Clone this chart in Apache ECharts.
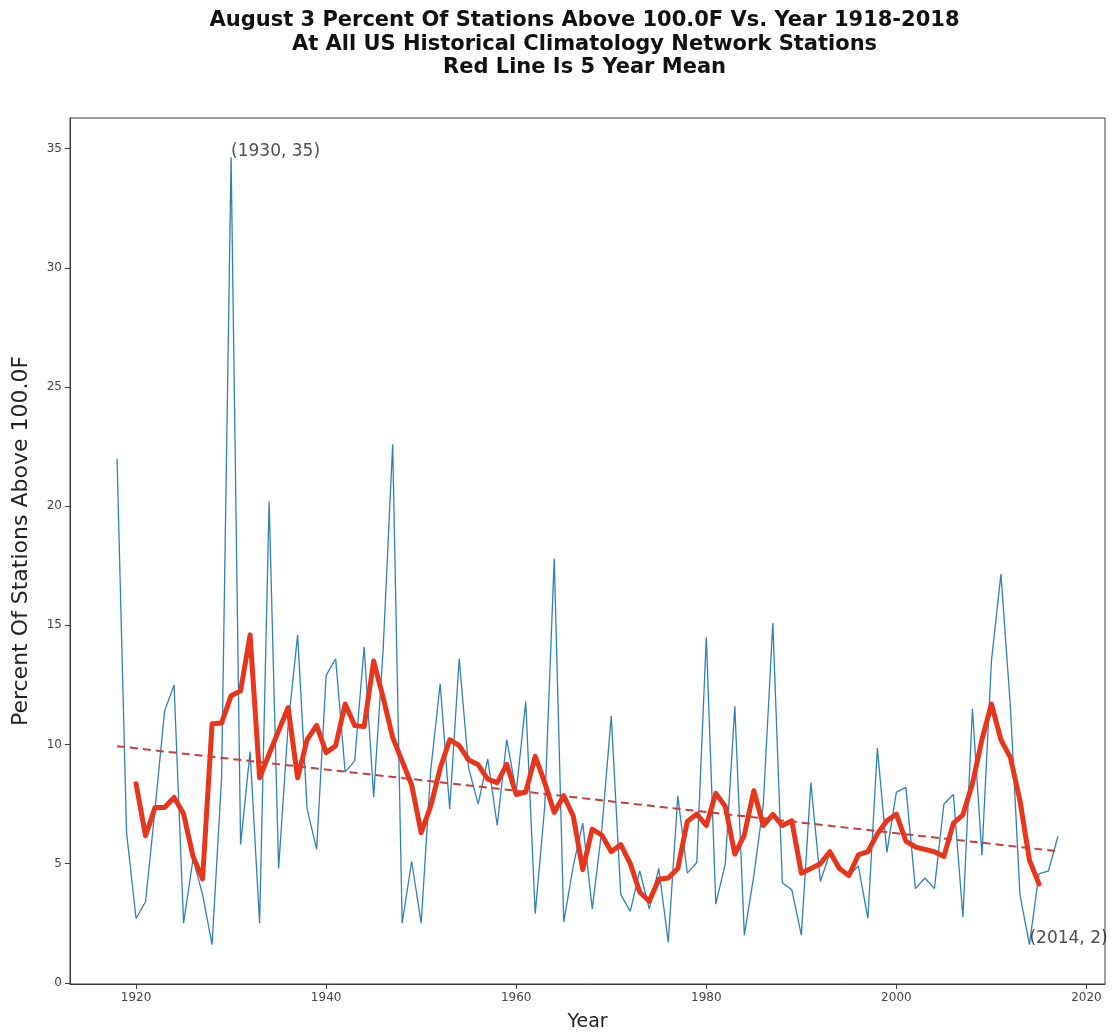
<!DOCTYPE html>
<html>
<head>
<meta charset="utf-8">
<script src="https://cdn.jsdelivr.net/npm/echarts@6/dist/echarts.min.js"></script>
<style>
html,body{margin:0;padding:0;background:#fff;}
#chart{width:1113px;height:1035px;}
</style>
</head>
<body>
<div id="chart"></div>
<script>
// ---- Data ----
const titleLines = [
  "August 3 Percent Of Stations Above 100.0F Vs. Year 1918-2018",
  "At All US Historical Climatology Network Stations",
  "Red Line Is 5 Year Mean"
];
const xAxisTitle = "Year";
const yAxisTitle = "Percent Of Stations Above 100.0F";

const firstYear = 1918;
// Percent of stations above 100F, 1918..2017
const pctAbove100 = [
  22.0, 6.3, 2.7, 3.4, 7.3, 11.4, 12.5, 2.5, 5.2, 3.7,      // 1918-1927
  1.6, 8.6, 34.64, 5.8, 9.7, 2.5, 20.2, 4.8, 10.8, 14.6,    // 1928-1937
  7.3, 5.6, 12.9, 13.6, 8.85, 9.3, 14.1, 7.8, 14.0, 22.6,   // 1938-1947
  2.5, 5.1, 2.5, 8.9, 12.55, 7.3, 13.6, 9.0, 7.5, 9.4,      // 1948-1957
  6.6, 10.2, 8.0, 11.8, 2.9, 7.4, 17.8, 2.55, 4.9, 6.7,     // 1958-1967
  3.1, 6.4, 11.2, 3.7, 3.0, 4.7, 3.1, 4.8, 1.7, 7.85,       // 1968-1977
  4.6, 5.05, 14.5, 3.3, 5.0, 11.6, 2.0, 4.5, 7.5, 15.1,     // 1978-1987
  4.2, 3.9, 2.0, 8.4, 4.25, 5.45, 4.9, 4.5, 4.9, 2.7,       // 1988-1997
  9.85, 5.47, 8.0, 8.2, 3.95, 4.4, 3.95, 7.5, 7.9, 2.75,    // 1998-2007
  11.5, 5.35, 13.5, 17.15, 11.55, 3.7, 1.6, 4.57, 4.7, 6.15 // 2008-2017
];

const meanFirstYear = 1920;
// 5 year mean (red line), 1920..2015
const fiveYearMean = [
  8.35, 6.17, 7.36, 7.36, 7.78, 7.09, 5.3, 4.36, 10.87, 10.9,   // 1920-1929
  12.05, 12.25, 14.6, 8.6, 9.6, 10.57, 11.55, 8.6, 10.2, 10.8,  // 1930-1939
  9.66, 9.95, 11.7, 10.8, 10.75, 13.5, 11.97, 10.3, 9.3, 8.3,   // 1940-1949
  6.3, 7.4, 9.0, 10.2, 9.95, 9.35, 9.15, 8.55, 8.4, 9.17,       // 1950-1959
  7.9, 8.0, 9.5, 8.4, 7.15, 7.85, 7.0, 4.75, 6.45, 6.2,         // 1960-1969
  5.5, 5.8, 5.0, 3.8, 3.42, 4.35, 4.4, 4.8, 6.77, 7.08,         // 1970-1979
  6.6, 7.95, 7.4, 5.4, 6.2, 8.06, 6.6, 7.07, 6.6, 6.8,          // 1980-1989
  4.6, 4.8, 5.0, 5.5, 4.8, 4.5, 5.37, 5.5, 6.25, 6.8,           // 1990-1999
  7.08, 5.95, 5.7, 5.6, 5.5, 5.3, 6.7, 7.05, 8.35, 10.2,        // 2000-2009
  11.7, 10.2, 9.45, 7.65, 5.15, 4.15                            // 2010-2015
];

// dashed trend line end points
const trendYears = [1918, 2017];
const trendValues = [9.93, 5.52];

// annotations
const noteYears = [1930, 2014];
const noteValues = [34.64, 1.6];
const noteTexts = ["(1930, 35)", "(2014, 2)"];

const xTicks = [1920, 1940, 1960, 1980, 2000, 2020];
const yTicks = [0, 5, 10, 15, 20, 25, 30, 35];

// ---- Build series data ----
const bluePts = pctAbove100.map((v, i) => [firstYear + i, v]);
const redPts = fiveYearMean.map((v, i) => [meanFirstYear + i, v]);
const trendPts = trendYears.map((y, i) => [y, trendValues[i]]);
const notePts = noteYears.map((y, i) => ({value: [y, noteValues[i]], name: noteTexts[i]}));

const FONT = "'DejaVu Sans', 'Liberation Sans', sans-serif";
const chart = echarts.init(document.getElementById('chart'), null, {renderer: 'canvas'});

const gridLeft = 70, gridRight = 8, gridTop = 118, gridBottom = 51;
const plotCenterX = gridLeft + (1113 - gridLeft - gridRight) / 2;

chart.setOption({
  animation: false,
  backgroundColor: '#ffffff',
  grid: {
    left: gridLeft, right: gridRight, top: gridTop, bottom: gridBottom,
    show: true, borderColor: '#3a3a3a', borderWidth: 1, backgroundColor: '#ffffff'
  },
  graphic: [
    {type: 'text', x: plotCenterX - 3, y: 21, style: {text: titleLines[0], font: 'bold 21px ' + FONT, fill: '#111', textAlign: 'center', textVerticalAlign: 'middle'}},
    {type: 'text', x: plotCenterX - 3, y: 45, style: {text: titleLines[1], font: 'bold 21px ' + FONT, fill: '#111', textAlign: 'center', textVerticalAlign: 'middle'}},
    {type: 'text', x: plotCenterX - 3, y: 68, style: {text: titleLines[2], font: 'bold 21px ' + FONT, fill: '#111', textAlign: 'center', textVerticalAlign: 'middle'}},
    {type: 'text', x: plotCenterX, y: 1022, style: {text: xAxisTitle, font: '19px ' + FONT, fill: '#222', textAlign: 'center', textVerticalAlign: 'middle'}},
    {type: 'text', x: 21, y: 541, rotation: Math.PI / 2, style: {text: yAxisTitle, font: '22px ' + FONT, fill: '#222', textAlign: 'center', textVerticalAlign: 'middle'}}
  ],
  xAxis: {
    type: 'value', min: 1913.05, max: 2021.95,
    splitLine: {show: false},
    axisLine: {show: true, onZero: false, lineStyle: {color: '#3a3a3a', width: 1}},
    axisTick: {show: true, length: 5, customValues: xTicks, lineStyle: {color: '#3a3a3a'}},
    axisLabel: {customValues: xTicks, formatter: v => String(v), color: '#444', fontSize: 12, fontFamily: FONT, margin: 8}
  },
  yAxis: {
    type: 'value', min: -0.05, max: 36.29,
    splitLine: {show: false},
    axisLine: {show: true, onZero: false, lineStyle: {color: '#3a3a3a', width: 1}},
    axisTick: {show: true, length: 5, customValues: yTicks, lineStyle: {color: '#3a3a3a'}},
    axisLabel: {customValues: yTicks, formatter: v => String(v), color: '#444', fontSize: 12, fontFamily: FONT, margin: 8}
  },
  series: [
    {
      name: 'percent', type: 'line', data: bluePts, showSymbol: false, symbol: 'none',
      lineStyle: {color: '#2f80b8', width: 1.3}, z: 2, silent: true
    },
    {
      name: 'trend', type: 'line', data: trendPts, showSymbol: false, symbol: 'none',
      lineStyle: {color: '#c2413a', width: 2, type: [8, 5]}, z: 3, silent: true
    },
    {
      name: 'mean5', type: 'line', data: redPts, showSymbol: false, symbol: 'none',
      lineStyle: {color: '#e8361c', width: 5, join: 'round', cap: 'round'}, z: 4, silent: true
    },
    {
      name: 'notes', type: 'scatter', data: notePts, symbolSize: 0, z: 5, silent: true,
      label: {
        show: true, formatter: p => p.name, position: [0, -6],
        align: 'left', verticalAlign: 'middle',
        color: '#222', fontSize: 17, fontFamily: FONT
      }
    }
  ]
});
</script>
</body>
</html>
